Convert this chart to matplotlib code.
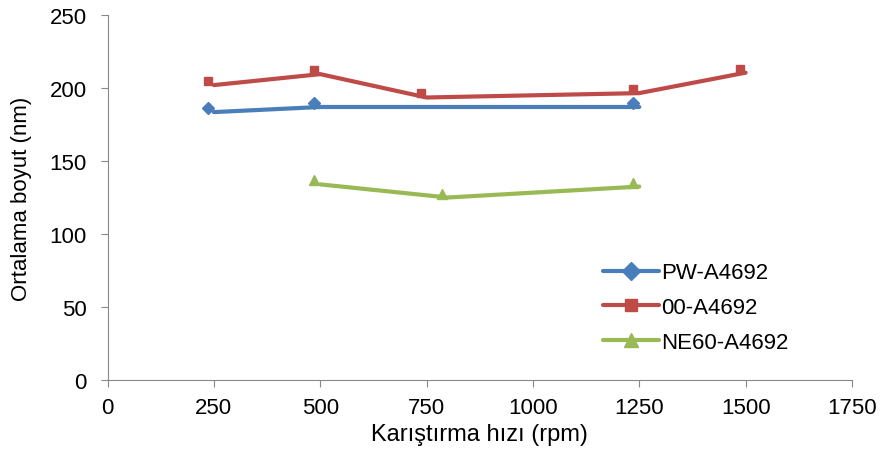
import matplotlib
matplotlib.use("Agg")
import matplotlib.pyplot as plt
from matplotlib.lines import Line2D
from matplotlib.transforms import offset_copy

plt.rcParams['font.family'] = ['Liberation Sans', 'DejaVu Sans']

# karıştırma hızı (rpm) ve ortalama boyut (nm)
pw_x = [250, 500, 1250]
pw_y = [183.5, 187, 187]
oo_x = [250, 500, 750, 1250, 1500]
oo_y = [202, 209.5, 193.5, 196.5, 210.5]
ne_x = [500, 800, 1250]
ne_y = [134, 125, 132.5]

series = [
    ("PW-A4692", pw_x, pw_y, "#4a7ebb", "D", 6),
    ("00-A4692", oo_x, oo_y, "#be4b48", "s", 6),
    ("NE60-A4692", ne_x, ne_y, "#98b954", "^", 7),
]

fig = plt.figure(figsize=(8.84, 4.52), dpi=100)
ax = fig.add_axes([0.1217, 0.157, 0.842, 0.8076])

# markers are drawn a few pixels off the line vertices
shifted = offset_copy(ax.transData, fig=fig, x=-6, y=4, units='dots')

handles = []
for name, xs, ys, col, mk, ms in series:
    ax.plot(xs, ys, linestyle='none', marker=mk, markersize=ms,
            color=col, transform=shifted, zorder=2)
    ax.plot(xs, ys, color=col, linewidth=3, solid_capstyle='round', zorder=3)
    handles.append(Line2D([], [], color=col, linewidth=3, marker=mk,
                          markersize=ms + 3, solid_capstyle='round'))

ax.set_xlim(0, 1750)
ax.set_ylim(0, 250)
ax.set_xticks(range(0, 1751, 250))
ax.set_yticks(range(0, 251, 50))

for side in ('top', 'right'):
    ax.spines[side].set_visible(False)
for side in ('left', 'bottom'):
    ax.spines[side].set_color('#888888')
ax.tick_params(direction='out', length=5, color='#888888', labelsize=16,
               labelcolor='black')
ax.tick_params(axis='x', pad=7)
ax.tick_params(axis='y', pad=10)

ax.set_xlabel('Karıştırma hızı (rpm)', fontsize=17)
ax.set_ylabel('Ortalama boyut (nm)', fontsize=16)
ax.xaxis.set_label_coords(0.5, -0.118)
ax.yaxis.set_label_coords(-0.102, 0.5)

ax.legend(handles, [s[0] for s in series], loc='upper left',
          bbox_to_anchor=(0.666, 0.322), frameon=False, fontsize=16,
          borderpad=0, borderaxespad=0, handlelength=2.5,
          handletextpad=0.1, labelspacing=0.62)

fig.savefig('out.png', dpi=100)
